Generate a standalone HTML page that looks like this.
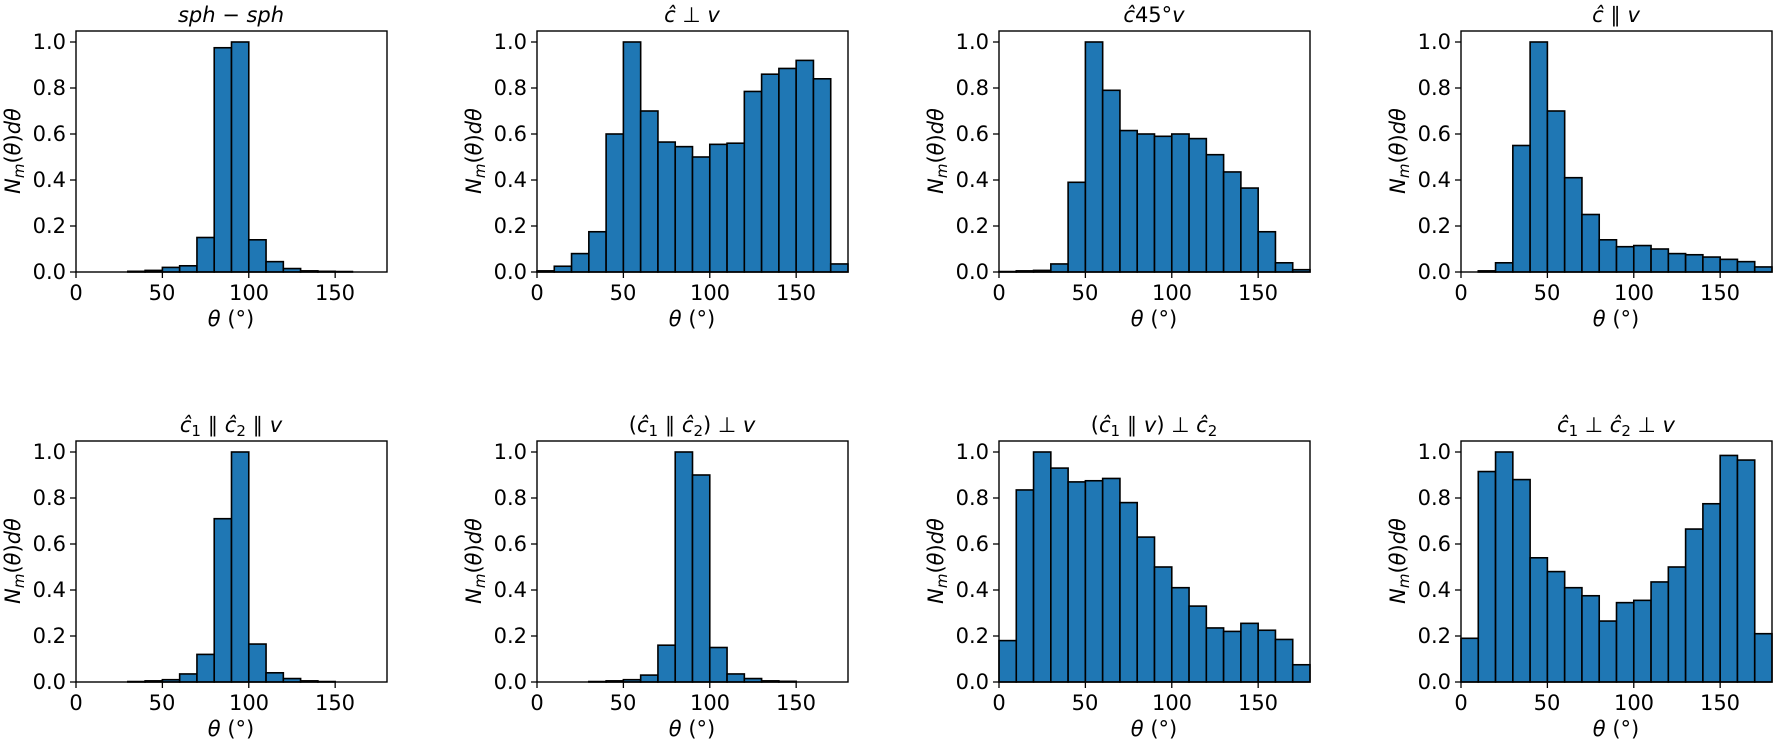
<!DOCTYPE html>
<html><head><meta charset="utf-8"><style>
html,body{margin:0;padding:0;background:#fff;}
svg{display:block;font-family:"DejaVu Sans","Liberation Sans",sans-serif;}
.t{font-size:21px;fill:#000}
.ti{font-size:21px;fill:#000}
</style></head><body>
<svg id="s" width="1773" height="741" viewBox="0 0 1773 741" xmlns="http://www.w3.org/2000/svg">
<g id="bars"></g>
<text class="ti" x="231" y="22" text-anchor="middle" font-style="italic">sph − sph</text>
<text class="ti" x="692" y="22" text-anchor="middle"><tspan font-style="italic">c&#770;</tspan> ⊥ <tspan font-style="italic">v</tspan></text>
<text class="ti" x="1154" y="22" text-anchor="middle"><tspan font-style="italic">c&#770;</tspan>45°<tspan font-style="italic">v</tspan></text>
<text class="ti" x="1616" y="22" text-anchor="middle"><tspan font-style="italic">c&#770;</tspan> ∥ <tspan font-style="italic">v</tspan></text>
<text class="ti" x="231" y="432" text-anchor="middle"><tspan font-style="italic">c&#770;</tspan><tspan font-size="15" dy="4">1</tspan><tspan dy="-4"> ∥ </tspan><tspan font-style="italic">c&#770;</tspan><tspan font-size="15" dy="4">2</tspan><tspan dy="-4"> ∥ </tspan><tspan font-style="italic">v</tspan></text>
<text class="ti" x="692" y="432" text-anchor="middle">(<tspan font-style="italic">c&#770;</tspan><tspan font-size="15" dy="4">1</tspan><tspan dy="-4"> ∥ </tspan><tspan font-style="italic">c&#770;</tspan><tspan font-size="15" dy="4">2</tspan><tspan dy="-4">) ⊥ </tspan><tspan font-style="italic">v</tspan></text>
<text class="ti" x="1154" y="432" text-anchor="middle">(<tspan font-style="italic">c&#770;</tspan><tspan font-size="15" dy="4">1</tspan><tspan dy="-4"> ∥ </tspan><tspan font-style="italic">v</tspan>) ⊥ <tspan font-style="italic">c&#770;</tspan><tspan font-size="15" dy="4">2</tspan></text>
<text class="ti" x="1616" y="432" text-anchor="middle"><tspan font-style="italic">c&#770;</tspan><tspan font-size="15" dy="4">1</tspan><tspan dy="-4"> ⊥ </tspan><tspan font-style="italic">c&#770;</tspan><tspan font-size="15" dy="4">2</tspan><tspan dy="-4"> ⊥ </tspan><tspan font-style="italic">v</tspan></text>
<g class="t" text-anchor="end">
<text x="66" y="279">0.0</text><text x="66" y="233">0.2</text><text x="66" y="187">0.4</text><text x="66" y="141">0.6</text><text x="66" y="95">0.8</text><text x="66" y="49">1.0</text>
<text x="527" y="279">0.0</text><text x="527" y="233">0.2</text><text x="527" y="187">0.4</text><text x="527" y="141">0.6</text><text x="527" y="95">0.8</text><text x="527" y="49">1.0</text>
<text x="989" y="279">0.0</text><text x="989" y="233">0.2</text><text x="989" y="187">0.4</text><text x="989" y="141">0.6</text><text x="989" y="95">0.8</text><text x="989" y="49">1.0</text>
<text x="1451" y="279">0.0</text><text x="1451" y="233">0.2</text><text x="1451" y="187">0.4</text><text x="1451" y="141">0.6</text><text x="1451" y="95">0.8</text><text x="1451" y="49">1.0</text>
<text x="66" y="689">0.0</text><text x="66" y="643">0.2</text><text x="66" y="597">0.4</text><text x="66" y="551">0.6</text><text x="66" y="505">0.8</text><text x="66" y="459">1.0</text>
<text x="527" y="689">0.0</text><text x="527" y="643">0.2</text><text x="527" y="597">0.4</text><text x="527" y="551">0.6</text><text x="527" y="505">0.8</text><text x="527" y="459">1.0</text>
<text x="989" y="689">0.0</text><text x="989" y="643">0.2</text><text x="989" y="597">0.4</text><text x="989" y="551">0.6</text><text x="989" y="505">0.8</text><text x="989" y="459">1.0</text>
<text x="1451" y="689">0.0</text><text x="1451" y="643">0.2</text><text x="1451" y="597">0.4</text><text x="1451" y="551">0.6</text><text x="1451" y="505">0.8</text><text x="1451" y="459">1.0</text>
</g>
<g class="t" text-anchor="middle">
<text x="76" y="300">0</text><text x="162" y="300">50</text><text x="249" y="300">100</text><text x="335" y="300">150</text>
<text x="537" y="300">0</text><text x="623" y="300">50</text><text x="710" y="300">100</text><text x="796" y="300">150</text>
<text x="999" y="300">0</text><text x="1085" y="300">50</text><text x="1172" y="300">100</text><text x="1258" y="300">150</text>
<text x="1461" y="300">0</text><text x="1547" y="300">50</text><text x="1634" y="300">100</text><text x="1720" y="300">150</text>
<text x="76" y="710">0</text><text x="162" y="710">50</text><text x="249" y="710">100</text><text x="335" y="710">150</text>
<text x="537" y="710">0</text><text x="623" y="710">50</text><text x="710" y="710">100</text><text x="796" y="710">150</text>
<text x="999" y="710">0</text><text x="1085" y="710">50</text><text x="1172" y="710">100</text><text x="1258" y="710">150</text>
<text x="1461" y="710">0</text><text x="1547" y="710">50</text><text x="1634" y="710">100</text><text x="1720" y="710">150</text>
<text x="231" y="326"><tspan font-style="italic">θ</tspan> (°)</text>
<text x="692" y="326"><tspan font-style="italic">θ</tspan> (°)</text>
<text x="1154" y="326"><tspan font-style="italic">θ</tspan> (°)</text>
<text x="1616" y="326"><tspan font-style="italic">θ</tspan> (°)</text>
<text x="231" y="736"><tspan font-style="italic">θ</tspan> (°)</text>
<text x="692" y="736"><tspan font-style="italic">θ</tspan> (°)</text>
<text x="1154" y="736"><tspan font-style="italic">θ</tspan> (°)</text>
<text x="1616" y="736"><tspan font-style="italic">θ</tspan> (°)</text>
<text transform="translate(20,151) rotate(-90)"><tspan font-style="italic">N</tspan><tspan font-style="italic" font-size="15" dy="4">m</tspan><tspan dy="-4">(</tspan><tspan font-style="italic">θ</tspan>)<tspan font-style="italic">dθ</tspan></text>
<text transform="translate(481,151) rotate(-90)"><tspan font-style="italic">N</tspan><tspan font-style="italic" font-size="15" dy="4">m</tspan><tspan dy="-4">(</tspan><tspan font-style="italic">θ</tspan>)<tspan font-style="italic">dθ</tspan></text>
<text transform="translate(943,151) rotate(-90)"><tspan font-style="italic">N</tspan><tspan font-style="italic" font-size="15" dy="4">m</tspan><tspan dy="-4">(</tspan><tspan font-style="italic">θ</tspan>)<tspan font-style="italic">dθ</tspan></text>
<text transform="translate(1405,151) rotate(-90)"><tspan font-style="italic">N</tspan><tspan font-style="italic" font-size="15" dy="4">m</tspan><tspan dy="-4">(</tspan><tspan font-style="italic">θ</tspan>)<tspan font-style="italic">dθ</tspan></text>
<text transform="translate(20,561) rotate(-90)"><tspan font-style="italic">N</tspan><tspan font-style="italic" font-size="15" dy="4">m</tspan><tspan dy="-4">(</tspan><tspan font-style="italic">θ</tspan>)<tspan font-style="italic">dθ</tspan></text>
<text transform="translate(481,561) rotate(-90)"><tspan font-style="italic">N</tspan><tspan font-style="italic" font-size="15" dy="4">m</tspan><tspan dy="-4">(</tspan><tspan font-style="italic">θ</tspan>)<tspan font-style="italic">dθ</tspan></text>
<text transform="translate(943,561) rotate(-90)"><tspan font-style="italic">N</tspan><tspan font-style="italic" font-size="15" dy="4">m</tspan><tspan dy="-4">(</tspan><tspan font-style="italic">θ</tspan>)<tspan font-style="italic">dθ</tspan></text>
<text transform="translate(1405,561) rotate(-90)"><tspan font-style="italic">N</tspan><tspan font-style="italic" font-size="15" dy="4">m</tspan><tspan dy="-4">(</tspan><tspan font-style="italic">θ</tspan>)<tspan font-style="italic">dθ</tspan></text>
</g>
</svg>
<script>
(function(){
var NS="http://www.w3.org/2000/svg";
var g=document.getElementById("bars");
var lefts=[76,537,999,1461], tops=[31,441], W=311, H=241, S=230;
var D=[
[0,0,0,0.003,0.007,0.02,0.027,0.15,0.975,1.0,0.14,0.045,0.015,0.005,0.003,0.002,0,0],
[0.005,0.025,0.08,0.175,0.6,1.0,0.7,0.565,0.545,0.5,0.555,0.56,0.785,0.86,0.885,0.92,0.84,0.035],
[0.002,0.005,0.007,0.035,0.39,1.0,0.79,0.615,0.6,0.59,0.6,0.58,0.51,0.435,0.365,0.175,0.04,0.01],
[0,0.005,0.04,0.55,1.0,0.7,0.41,0.25,0.14,0.11,0.115,0.1,0.08,0.075,0.065,0.055,0.045,0.022],
[0,0,0,0.002,0.005,0.01,0.035,0.12,0.71,1.0,0.165,0.04,0.015,0.005,0.002,0,0,0],
[0,0,0,0.002,0.005,0.01,0.03,0.16,1.0,0.9,0.15,0.035,0.015,0.005,0.003,0,0,0],
[0.18,0.835,1.0,0.93,0.87,0.875,0.885,0.78,0.63,0.5,0.41,0.33,0.235,0.22,0.255,0.225,0.185,0.075],
[0.19,0.915,1.0,0.88,0.54,0.48,0.41,0.375,0.265,0.345,0.355,0.435,0.5,0.665,0.775,0.985,0.965,0.21]];
function el(n,a){var e=document.createElementNS(NS,n);for(var k in a)e.setAttribute(k,a[k]);g.appendChild(e);return e;}
for(var p=0;p<8;p++){
 var L=lefts[p%4],T=tops[p>>2],B=T+H,bw=W/18;
 for(var i=0;i<18;i++){var h=D[p][i]*S;
  el("rect",{x:L+i*bw,y:B-h,width:bw,height:h,fill:"#1f77b4",stroke:"#000","stroke-width":1.6});}
 el("rect",{x:L,y:T,width:W,height:H,fill:"none",stroke:"#000","stroke-width":1.4});
 for(var j=0;j<=5;j++){var y=B-j*0.2*S;el("line",{x1:L-6,x2:L,y1:y,y2:y,stroke:"#000","stroke-width":1.3});}
 for(var j=0;j<4;j++){var x=L+j*50*W/180;el("line",{x1:x,x2:x,y1:B,y2:B+6,stroke:"#000","stroke-width":1.3});}
}
})();
</script>
</body></html>
